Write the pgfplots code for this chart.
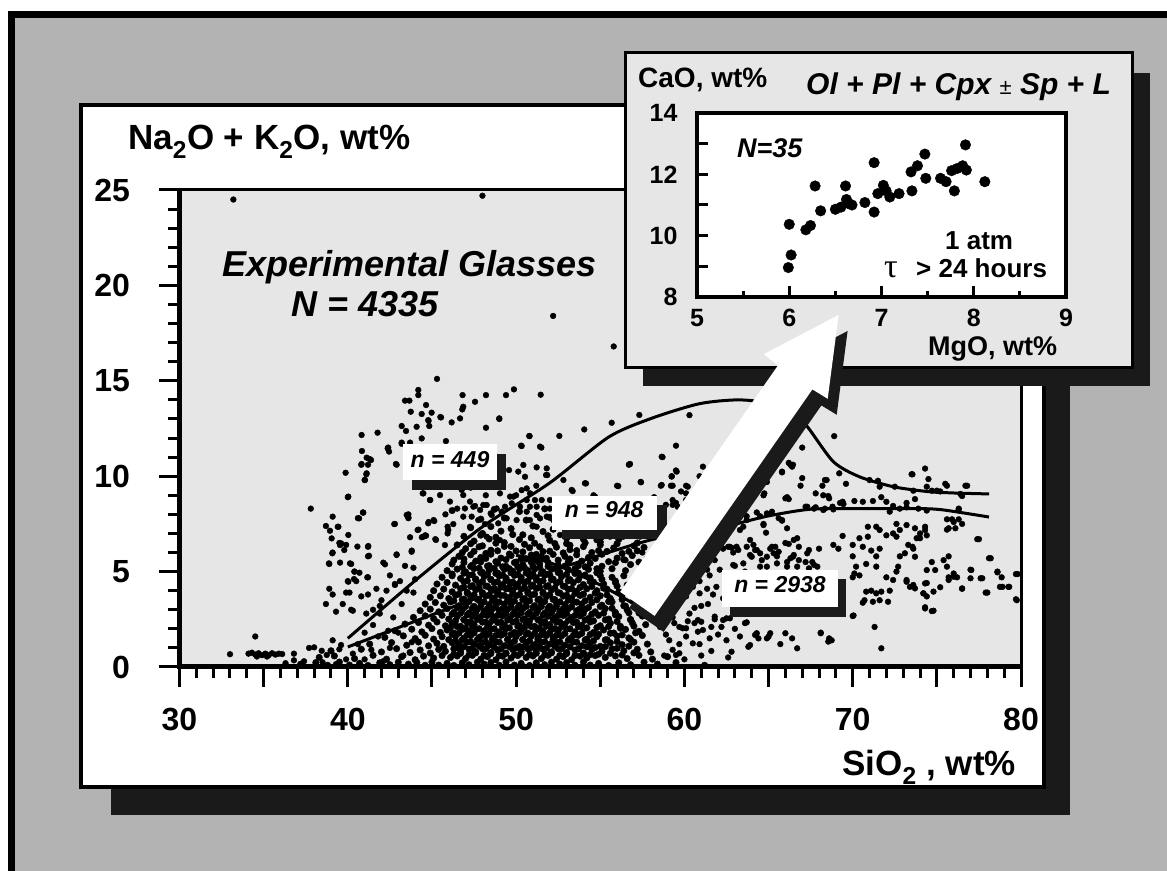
\documentclass[border=0pt]{standalone}
\usepackage{pgfplots}
\pgfplotsset{compat=1.18}
\usepackage{fontspec}
\setmainfont{Liberation Sans}
\newfontfamily\greekfont{Liberation Serif}

\definecolor{framegray}{HTML}{B3B3B3}
\definecolor{plotgray}{HTML}{E6E6E6}
\definecolor{shadowcol}{HTML}{1A1A1A}
\newcommand{\fs}[1]{\fontsize{#1}{#1}\selectfont}

\begin{document}
\begin{tikzpicture}[x=1pt,y=1pt]
\useasboundingbox (0,0) rectangle (1167,870);
\fill[white] (0,0) rectangle (1167,870);
\fill[framegray] (11,-20) rectangle (1190,855.5);
\draw[line width=7pt] (11,-20) -- (11,855.5) -- (1190,855.5);

% main panel with shadow
\fill[shadowcol] (111,55) rectangle (1070,737);
\filldraw[fill=white, draw=black, line width=3.5pt] (81,83) rectangle (1044,765);

\begin{axis}[
  at={(179.5pt,203pt)}, anchor=south west,
  scale only axis, width=841.5pt, height=477pt,
  xmin=30, xmax=80, ymin=0, ymax=25,
  axis background/.style={fill=plotgray},
  axis line style={line width=3pt},
  xtick={30,35,...,80},
  xticklabels={30,,40,,50,,60,,70,,80},
  ytick={0,5,...,25},
  minor x tick num=4, minor y tick num=4,
  tick align=outside, tick pos=left,
  major tick length=20pt, minor tick length=11pt,
  major tick style={line width=3pt, black},
  minor tick style={line width=3pt, black},
  /pgf/number format/assume math mode=true,
  tick label style={font=\fs{32}\bfseries},
  xticklabel style={anchor=north, yshift=-18pt},
  yticklabel style={anchor=east, xshift=-26pt},
  every axis plot/.append style={mark size=2.9pt},
]
% sparse glasses
\addplot[only marks, mark=*, black] coordinates {
(33.2,24.5)(48.0,24.7)(52.2,18.4)(55.8,16.8)(45.3,15.1)
(44.19,14.52)(44.19,14.25)(43.40,13.96)(43.66,13.96)(44.65,13.73)(43.74,13.38)(44.39,13.26)(44.98,13.33)(44.78,12.94)(45.54,13.08)
(46.17,12.82)(46.67,13.03)(46.80,13.50)(46.86,13.64)(46.82,14.25)(47.56,13.90)(48.21,14.25)(49.40,14.25)(49.87,14.55)(51.46,14.27)
(49.00,13.03)(48.21,12.54)(43.20,12.63)(43.46,12.37)(44.09,12.59)(44.84,12.63)(40.82,12.16)(41.77,12.28)(44.39,11.98)(43.20,11.76)
(43.70,11.76)(45.83,11.84)(42.37,11.46)(42.45,11.29)(40.84,11.32)(41.12,10.97)(41.38,10.85)(40.82,10.64)(41.12,10.15)(41.02,9.80)
(42.86,10.64)(39.87,10.18)(40.03,8.93)(40.67,7.79)(40.92,8.09)(38.70,7.39)(39.10,7.88)(39.44,7.35)(38.94,7.14)(39.04,6.74)
(40.03,6.92)(39.60,6.48)(39.79,6.13)(39.54,6.39)(39.08,5.96)(38.88,5.43)(39.54,5.47)(40.13,5.43)(40.03,4.47)(40.37,4.61)
(40.69,4.94)(40.39,5.00)(41.16,4.70)(40.57,6.31)(41.22,6.34)(41.26,5.83)(42.11,5.47)(42.21,5.38)(42.80,4.35)(42.90,5.87)
(42.76,7.49)(43.50,7.97)(43.60,7.84)(43.79,6.04)(44.15,7.18)(44.49,6.83)(44.65,6.88)(44.78,7.53)(45.14,7.65)(45.24,6.66)
(45.93,7.35)(46.27,7.49)(45.77,6.39)(45.93,7.0)(45.97,7.18)
(50.8,12.1)(50.3,11.6)(51.5,11.5)(60.3,13.2)(59.5,11.6)(58.7,11.0)(44.8,12.9)(45.5,13.1)(49.0,13.0)
(37.8,8.3)(39.4,7.35)(40.9,8.1)(40.6,7.8)(39.5,6.5)(39.9,6.4)(41.2,6.3)(41.2,5.8)(39.1,6.0)(38.9,5.4)(40.2,5.4)
(40.4,5.0)(40.5,4.5)(40.0,4.5)(41.2,4.7)(38.9,4.1)(39.1,3.8)(39.9,3.9)(40.1,3.9)(40.8,3.7)(41.2,3.8)(38.7,3.3)(39.3,2.9)
(39.7,3.3)(40.2,3.0)(40.3,2.95)(41.1,2.8)(41.5,3.0)(41.9,3.2)(41.9,2.8)(42.3,4.0)(42.8,4.3)(42.9,5.9)(42.8,7.5)(43.8,6.1)
(43.7,6.8)(43.9,5.2)(43.4,5.3)(44.2,7.2)(44.4,6.8)(44.6,6.9)(44.8,7.6)(45.1,7.7)(45.2,6.7)(44.9,8.75)(44.45,9.1)(43.6,8.0)
(43.6,7.8)(42.9,10.6)(41.3,10.9)(41.2,10.6)(42.4,11.5)(43.2,11.7)(40.8,10.6)(41.1,10.1)(41.0,9.8)(40.0,8.9)
(41.5,2.2)(42.0,3.5)(42.7,2.6)(43.2,3.3)(43.5,4.0)(42.4,1.9)(41.0,1.8)(43.9,3.9)(44.0,4.6)(43.1,4.5)(42.5,4.8)(41.7,4.1)
(34.5,1.6)(33.0,0.67)(34.1,0.7)(34.3,0.75)(34.5,0.65)(34.7,0.72)(34.9,0.62)(35.1,0.7)(35.3,0.62)(35.5,0.72)(35.7,0.65)
(35.9,0.7)(36.1,0.68)(34.6,0.55)(35.2,0.55)(36.8,0.7)(36.8,0.35)
(37.4,0.3)(37.7,1.0)(38.0,1.03)(38.45,0.85)(38.75,0.63)(39.1,1.4)(39.5,0.93)(39.6,1.15)(39.9,0.4)(40.3,0.7)(40.6,1.2)
(41.0,0.4)(41.4,0.9)(41.8,1.6)(42.1,0.3)(42.5,1.0)(43.0,1.8)(43.3,0.6)(43.8,1.3)(36.3,0.2)(38.5,0.25)(39.3,0.15)
};
% upper-middle cloud and right-hand field
\addplot[only marks, mark=*, black] coordinates {
(57.32,13.21)(55.68,12.80)(54.05,12.45)(52.57,12.11)(56.72,10.62)(57.42,9.68)(56.07,9.48)(54.15,9.62)(53.36,9.22)(51.22,10.46)
(51.85,10.06)(50.43,10.59)(50.53,9.97)(49.58,10.32)(50.13,10.24)(50.33,9.27)(49.64,8.93)(48.84,8.31)(48.49,8.05)(49.34,8.40)
(48.05,8.49)(47.56,8.44)(46.96,8.31)(46.86,7.88)(47.36,7.88)(47.75,7.70)(48.15,7.49)(47.26,7.35)(48.94,7.53)(48.25,6.83)
(49.04,6.65)(50.03,7.70)(50.82,7.70)(51.22,7.97)(50.82,8.40)(51.52,8.75)(52.01,8.75)(50.63,8.75)(51.22,7.35)(52.61,6.92)
(53.40,7.0)(54.0,6.83)(54.78,6.65)(55.58,6.83)(56.37,6.83)(57.36,6.83)(50.33,11.58)(50.78,12.11)(51.42,11.55)
(51.82,10.41)(51.78,10.06)(50.63,9.36)(50.83,9.10)(49.84,8.93)(49.04,9.10)(52.81,9.80)(53.30,9.28)(54.09,9.63)(54.69,8.93)
(56.77,10.64)(58.65,11.02)(58.65,9.54)(59.24,9.98)(59.54,10.24)
(44.49,9.10)(44.88,8.75)(45.48,9.01)(46.07,8.67)(46.77,9.28)(46.86,9.01)(47.26,8.67)(47.46,8.40)(47.86,8.23)(48.25,8.49)
(48.55,7.97)(49.14,8.14)(49.44,7.79)(49.74,8.58)(50.23,8.40)(50.63,8.14)(51.12,8.75)(51.22,8.40)(51.42,7.79)(51.82,7.88)(52.21,7.70)
(52.5,7.6)(53.4,8.1)(54.2,7.4)(55.0,8.3)(55.9,7.7)(56.8,8.8)(57.6,7.3)(53.0,8.8)(54.6,9.0)(52.0,8.3)(51.2,9.5)(50.0,9.0)
(49.0,9.6)(48.2,9.0)(47.3,9.4)(46.5,8.3)(45.8,8.0)(55.5,8.2)(56.3,7.9)(57.0,8.5)(55.8,7.3)(57.8,7.6)(58.4,8.1)(58.9,7.2)
(59.4,6.9)(58.6,6.4)(57.5,6.0)(56.5,5.6)
(59.2,5.0)(59.6,4.6)(60.0,5.3)(60.3,4.4)(59.0,4.0)(59.8,3.5)(60.6,3.1)(59.3,2.6)(60.1,1.6)(61.4,3.3)(61.9,4.2)(62.3,3.6)
(62.7,4.7)(63.2,3.1)(62.0,1.7)(63.5,4.2)(64.0,3.6)(64.6,2.9)(63.0,5.3)(61.0,5.7)(60.4,6.0)(59.8,6.5)
(58.8,4.6)(59.5,5.6)(60.2,5.0)(60.9,4.5)(61.5,4.8)(62.1,5.1)(62.5,4.3)(63.1,4.6)(63.6,5.0)(62.8,3.8)(61.7,3.8)(61.0,3.2)
(60.2,2.4)(59.7,1.2)(60.9,1.2)(61.5,1.5)(62.2,2.1)(63.0,2.0)(63.3,1.6)(62.6,0.5)(61.0,0.6)(60.0,0.4)(58.8,0.6)(58.9,1.7)
(58.7,3.3)(59.0,3.8)
(61.1,10.5)(59.5,10.3)(59.25,10.0)(59.3,9.5)(60.9,10.0)(60.1,9.5)(59.8,9.2)(60.1,9.1)(59.3,8.75)(59.6,8.4)(59.3,8.5)(58.65,8.1)
(67.0,11.5)(68.9,12.1)(66.3,10.6)(66.4,10.5)(65.8,10.2)(67.0,9.9)(66.9,9.5)(64.9,9.7)(64.7,9.0)(66.1,8.9)(66.2,8.8)
(67.8,9.1)(68.2,9.5)(68.25,9.0)(68.55,8.96)(68.45,9.8)(69.2,10.15)(69.6,9.6)
(71.0,9.8)(71.5,9.76)(71.6,9.45)(72.5,9.45)(73.6,9.24)(73.5,10.1)(74.3,10.4)(74.5,9.85)(74.4,9.45)(75.0,9.24)(75.2,9.2)
(75.5,9.6)(75.6,9.5)(76.8,9.5)(76.4,9.07)(76.5,8.96)(76.3,8.3)
(67.3,8.4)(67.8,8.37)(68.35,8.3)(68.85,8.26)(69.25,8.6)(69.45,8.54)(70.1,8.7)(70.6,8.66)(71.2,8.7)(71.7,8.9)(72.0,8.66)
(72.4,8.44)(72.2,8.14)(72.8,8.3)(73.2,8.37)(73.2,8.6)(73.7,8.8)(73.9,8.3)(74.4,8.2)
(75.6,7.74)(76.0,7.6)(76.3,7.74)(76.3,8.26)(76.5,7.5)(75.6,7.2)(76.1,7.27)(75.9,7.74)(75.7,7.27)
(64.7,7.44)(64.85,7.04)(65.6,7.8)(66.1,7.27)(65.8,7.67)
(66.7,6.75)(66.2,6.45)(67.3,5.96)(68.0,6.2)(68.85,6.4)(69.15,6.2)(69.4,6.87)(70.0,6.4)(70.4,6.75)(70.6,6.3)(70.9,6.83)
(70.9,7.35)(71.4,7.35)(71.6,7.18)(72.0,6.9)(72.4,7.0)(72.6,7.5)(72.8,7.18)(73.2,7.44)(73.7,7.27)(73.8,6.75)(73.3,6.4)
(73.6,6.2)(73.1,5.96)(72.8,5.8)(74.3,7.35)(74.4,6.9)(74.0,6.75)
(70.0,5.8)(70.2,5.26)(70.1,4.9)(70.4,4.8)(70.0,4.7)(70.8,5.4)(71.4,5.26)(71.1,6.1)(71.6,6.2)(71.4,5.8)
(72.0,4.7)(72.4,4.56)(72.6,5.0)(72.7,5.26)(73.2,4.47)(73.4,4.2)(73.6,4.3)(74.2,3.86)(74.4,3.7)(74.4,4.4)
(70.8,3.95)(71.1,4.0)(71.4,3.86)(71.7,3.95)(72.2,4.0)(70.7,3.5)(70.6,3.37)(71.2,3.42)(71.6,3.5)(72.1,3.42)
(74.3,3.13)(74.8,2.95)(75.2,4.18)(75.6,5.26)(75.7,5.8)(75.7,4.7)(76.2,4.7)(76.0,4.9)(76.5,4.1)(77.0,4.65)(77.0,5.1)
(77.4,6.7)(77.7,4.65)(78.0,3.9)(78.2,5.7)(78.6,5.0)(78.85,4.7)(78.75,4.2)(79.25,4.2)(79.75,3.5)(79.8,4.87)
(70.0,2.67)(71.3,2.1)(71.7,0.98)(68.1,1.8)(68.55,1.33)(68.75,1.4)(66.4,1.5)(66.7,0.98)(65.7,1.2)(65.1,1.77)(64.9,1.5)
(64.4,1.5)(64.2,1.68)(63.9,1.15)(63.8,1.06)(63.7,2.34)(62.8,0.8)(62.5,1.4)(61.6,0.84)(59.3,0.9)(59.5,0.63)(59.7,0.72)
(60.5,1.24)(60.8,1.85)(60.1,2.03)(59.7,2.1)(59.1,2.8)(58.55,2.1)(59.1,1.4)(61.6,2.1)(61.8,2.5)(62.3,2.46)(62.7,2.55)
(61.0,2.37)(60.6,2.3)
(61.9,6.1)(62.1,6.3)(62.3,6.2)(62.6,6.3)(62.8,6.25)(62.9,6.0)(63.1,6.3)(63.3,7.18)(63.7,7.7)(64.3,8.1)(64.7,7.5)
(63.9,6.66)(64.1,6.4)(64.2,6.13)(63.9,5.87)(64.5,5.96)(64.6,5.6)(64.9,5.78)(65.1,6.2)(65.4,6.3)(65.6,6.04)(65.3,5.96)
(65.5,5.8)(66.1,5.5)(66.3,5.7)(66.5,5.87)(66.8,5.6)(67.6,5.5)(67.9,5.26)(67.4,5.17)(66.7,5.26)(66.1,5.26)(65.5,5.43)
(64.9,5.26)(64.5,5.26)(63.5,7.35)(63.7,7.9)(64.5,7.9)(64.9,8.05)
(62.2,6.3)(62.7,6.3)(63.2,6.13)(63.7,6.3)(64.0,5.78)(63.5,5.43)(62.9,5.35)(64.3,6.13)(65.2,6.3)(66.0,6.5)(66.5,6.66)
(66.8,6.3)(66.45,5.78)(67.2,5.5)(67.7,5.35)(67.4,6.13)
(60.7,4.9)(61.35,5.1)(61.8,5.6)(60.5,4.2)(60.9,3.86)(61.35,4.1)(60.1,3.7)(59.4,3.16)(60.3,2.8)(60.8,2.46)(61.1,1.94)
(59.9,2.03)(59.4,2.3)(61.8,2.64)(62.5,2.55)(63.6,2.3)(64.3,1.77)(65.0,1.59)(66.0,1.77)(68.1,1.77)(68.6,1.5)(70.05,2.7)(65.9,2.8)
(73.55,10.1)(74.7,9.24)(76.7,9.5)(77.5,6.7)(78.1,5.7)(78.6,4.96)(79.7,4.87)(79.7,3.55)(79.3,4.2)(78.9,4.2)(77.9,3.9)
(77.6,4.65)(77.05,5.08)(76.5,4.12)(76.0,4.73)(75.7,4.56)(75.4,5.6)(74.9,5.08)(74.7,5.5)(74.4,5.08)(74.3,4.38)(74.8,3.95)
(74.3,3.07)(74.7,2.93)(74.2,3.86)(73.7,4.12)(73.2,4.56)(73.7,5.78)(73.55,6.3)(74.0,7.0)(74.3,7.18)(72.6,6.83)
(64.75,9.1)(64.1,9.8)(64.6,10.0)(65.2,8.14)(65.8,7.7)(66.0,8.84)(67.2,8.4)(67.7,8.3)(68.25,8.23)(68.8,8.4)(69.4,8.66)
(65.8,10.24)(66.2,10.7)(66.45,10.6)(68.35,9.8)(68.6,8.84)
(56.7,10.6)(57.4,9.7)(56.0,9.5)(58.6,9.5)(59.2,9.5)(60.2,9.45)(59.5,8.6)(58.9,8.5)(60.1,8.75)(58.2,8.9)(57.85,8.4)
};
% dense basaltic core
\addplot[only marks, mark=*, mark size=3.3pt, black] coordinates {
(37.2,0.15)(38.1,0.23)(38.8,0.09)(39.5,0.26)(40.1,0.1)(40.7,0.19)(41.2,0.08)(41.9,0.22)(42.5,0.12)(43.0,0.25)(43.6,0.15)
(44.1,0.23)(44.6,0.09)(45.0,0.26)(45.4,0.1)(45.9,0.19)(46.3,0.08)(46.8,0.22)(47.2,0.12)(47.7,0.25)(48.1,0.15)(48.5,0.23)
(49.0,0.09)(49.4,0.26)(49.9,0.1)(50.3,0.19)(50.8,0.08)(51.2,0.22)(51.7,0.12)(52.1,0.25)(52.6,0.15)(53.0,0.23)(53.5,0.09)
(54.0,0.26)(54.4,0.1)(54.9,0.19)(55.5,0.08)(56.1,0.22)(56.8,0.12)(57.6,0.25)(58.4,0.15)(59.5,0.23)(61.2,0.09)
(38.3,0.50)(39.2,0.58)(40.4,0.44)(41.5,0.61)(42.3,0.41)(43.2,0.54)(44.0,0.38)(44.5,0.57)(45.1,0.47)(45.6,0.60)
(46.1,0.50)(46.5,0.58)(47.0,0.44)(47.4,0.61)(47.9,0.41)(48.3,0.54)(48.8,0.38)(49.2,0.57)(49.7,0.47)(50.1,0.60)
(50.6,0.50)(51.0,0.58)(51.5,0.44)(51.9,0.61)(52.4,0.41)(52.8,0.54)(53.3,0.38)(53.8,0.57)(54.2,0.47)(54.7,0.60)
(55.3,0.50)(55.9,0.58)(56.6,0.44)(57.3,0.61)(58.1,0.41)(59.0,0.54)
(39.0,0.85)(40.8,0.93)(42.0,0.79)(42.9,0.96)(43.7,0.76)(44.3,0.89)(44.9,0.73)(45.4,0.92)(45.8,0.82)(46.3,0.95)
(46.7,0.85)(47.2,0.93)(47.6,0.79)(48.0,0.96)(48.5,0.76)(48.9,0.89)(49.4,0.73)(49.8,0.92)(50.3,0.82)(50.7,0.95)
(51.2,0.85)(51.6,0.93)(52.1,0.79)(52.5,0.96)(53.0,0.76)(53.5,0.89)(54.0,0.73)(54.5,0.92)(55.1,0.82)(55.7,0.95)
(56.4,0.85)(57.2,0.93)(58.0,0.79)
(41.3,1.20)(42.6,1.28)(43.5,1.14)(44.2,1.31)(44.8,1.11)(45.3,1.24)(45.7,1.08)(46.2,1.27)(46.6,1.17)(47.1,1.30)
(47.5,1.20)(48.0,1.28)(48.4,1.14)(48.8,1.31)(49.3,1.11)(49.7,1.24)(50.2,1.08)(50.6,1.27)(51.1,1.17)(51.5,1.30)
(52.0,1.20)(52.4,1.28)(52.9,1.14)(53.4,1.31)(53.9,1.11)(54.4,1.24)(55.0,1.08)(55.6,1.27)(56.3,1.17)(57.0,1.30)(57.8,1.20)
(42.2,1.55)(43.3,1.63)(44.0,1.49)(44.6,1.66)(45.1,1.46)(45.6,1.59)(46.0,1.43)(46.4,1.62)(46.9,1.52)(47.3,1.65)
(47.8,1.55)(48.2,1.63)(48.6,1.49)(49.1,1.66)(49.5,1.46)(50.0,1.59)(50.4,1.43)(50.9,1.62)(51.3,1.52)(51.8,1.65)
(52.2,1.55)(52.7,1.63)(53.2,1.49)(53.7,1.66)(54.2,1.46)(54.8,1.59)(55.4,1.43)(56.0,1.62)(56.7,1.52)(57.5,1.65)
(42.8,1.90)(43.8,1.98)(44.4,1.84)(45.0,2.01)(45.5,1.81)(45.9,1.94)(46.3,1.78)(46.8,1.97)(47.2,1.87)(47.6,2.00)
(48.1,1.90)(48.5,1.98)(49.0,1.84)(49.4,2.01)(49.9,1.81)(50.3,1.94)(50.7,1.78)(51.2,1.97)(51.6,1.87)(52.1,2.00)
(52.5,1.90)(53.0,1.98)(53.5,1.84)(54.0,2.01)(54.6,1.81)(55.2,1.94)(55.8,1.78)(56.5,1.97)(57.3,1.87)
(43.4,2.25)(44.2,2.33)(44.8,2.19)(45.3,2.36)(45.8,2.16)(46.2,2.29)(46.7,2.13)(47.1,2.32)(47.5,2.22)(48.0,2.35)
(48.4,2.25)(48.9,2.33)(49.3,2.19)(49.8,2.36)(50.2,2.16)(50.6,2.29)(51.1,2.13)(51.5,2.32)(52.0,2.22)(52.4,2.35)
(52.9,2.25)(53.4,2.33)(53.9,2.19)(54.4,2.36)(55.0,2.16)(55.6,2.29)(56.2,2.13)(56.9,2.32)(57.7,2.22)
(43.9,2.60)(44.6,2.68)(45.1,2.54)(45.6,2.71)(46.0,2.51)(46.5,2.64)(46.9,2.48)(47.4,2.67)(47.8,2.57)(48.3,2.70)
(48.7,2.60)(49.2,2.68)(49.6,2.54)(50.1,2.71)(50.5,2.51)(51.0,2.64)(51.4,2.48)(51.9,2.67)(52.3,2.57)(52.8,2.70)
(53.3,2.60)(53.8,2.68)(54.3,2.54)(54.9,2.71)(55.5,2.51)(56.1,2.64)(56.8,2.48)(57.5,2.67)
(44.3,2.95)(44.9,3.03)(45.4,2.89)(45.9,3.06)(46.3,2.86)(46.8,2.99)(47.2,2.83)(47.7,3.02)(48.1,2.92)(48.6,3.05)
(49.0,2.95)(49.5,3.03)(49.9,2.89)(50.4,3.06)(50.8,2.86)(51.3,2.99)(51.7,2.83)(52.2,3.02)(52.6,2.92)(53.1,3.05)
(53.6,2.95)(54.1,3.03)(54.7,2.89)(55.3,3.06)(55.9,2.86)(56.6,2.99)(57.3,2.83)
(44.6,3.30)(45.2,3.38)(45.7,3.24)(46.1,3.41)(46.6,3.21)(47.0,3.34)(47.5,3.18)(47.9,3.37)(48.4,3.27)(48.8,3.40)
(49.3,3.30)(49.7,3.38)(50.2,3.24)(50.6,3.41)(51.1,3.21)(51.5,3.34)(52.0,3.18)(52.4,3.37)(52.9,3.27)(53.4,3.40)
(53.9,3.30)(54.5,3.38)(55.1,3.24)(55.7,3.41)(56.4,3.21)(57.1,3.34)
(44.9,3.65)(45.5,3.73)(46.0,3.59)(46.4,3.76)(46.9,3.56)(47.3,3.69)(47.8,3.53)(48.2,3.72)(48.7,3.62)(49.1,3.75)
(49.6,3.65)(50.0,3.73)(50.5,3.59)(50.9,3.76)(51.4,3.56)(51.8,3.69)(52.3,3.53)(52.8,3.72)(53.3,3.62)(53.8,3.75)
(54.4,3.65)(55.0,3.73)(55.6,3.59)(56.3,3.76)(57.0,3.56)
(45.1,4.00)(45.7,4.08)(46.2,3.94)(46.7,4.11)(47.1,3.91)(47.6,4.04)(48.0,3.88)(48.5,4.07)(48.9,3.97)(49.4,4.10)
(49.8,4.00)(50.3,4.08)(50.7,3.94)(51.2,4.11)(51.6,3.91)(52.1,4.04)(52.6,3.88)(53.1,4.07)(53.6,3.97)(54.2,4.10)
(54.8,4.00)(55.4,4.08)(56.1,3.94)(56.8,4.11)
(45.3,4.35)(45.9,4.43)(46.4,4.29)(46.9,4.46)(47.4,4.26)(47.8,4.39)(48.3,4.23)(48.7,4.42)(49.2,4.32)(49.6,4.45)
(50.1,4.35)(50.5,4.43)(51.0,4.29)(51.4,4.46)(51.9,4.26)(52.4,4.39)(52.9,4.23)(53.4,4.42)(54.0,4.32)(54.6,4.45)
(55.2,4.35)(55.9,4.43)(56.6,4.29)
(45.6,4.70)(46.2,4.78)(46.7,4.64)(47.2,4.81)(47.6,4.61)(48.1,4.74)(48.5,4.58)(49.0,4.77)(49.4,4.67)(49.9,4.80)
(50.3,4.70)(50.8,4.78)(51.2,4.64)(51.7,4.81)(52.2,4.61)(52.7,4.74)(53.2,4.58)(53.8,4.77)(54.4,4.67)(55.0,4.80)
(55.7,4.70)(56.4,4.78)
(45.9,5.05)(46.5,5.13)(47.0,4.99)(47.5,5.16)(48.0,4.96)(48.4,5.09)(48.9,4.93)(49.3,5.12)(49.8,5.02)(50.2,5.15)
(50.7,5.05)(51.1,5.13)(51.6,4.99)(52.1,5.16)(52.6,4.96)(53.1,5.09)(53.7,4.93)(54.3,5.12)(55.0,5.02)(55.7,5.15)(56.5,5.05)
(46.2,5.40)(46.9,5.48)(47.4,5.34)(47.9,5.51)(48.4,5.31)(48.9,5.44)(49.4,5.28)(49.9,5.47)(50.4,5.37)(50.9,5.50)
(51.4,5.40)(51.9,5.48)(52.5,5.34)(53.1,5.51)(53.7,5.31)(54.4,5.44)(55.1,5.28)(55.9,5.47)(56.8,5.37)
(46.6,5.80)(47.3,5.88)(47.9,5.74)(48.5,5.91)(49.1,5.71)(49.7,5.84)(50.3,5.68)(50.9,5.87)(51.5,5.77)(52.2,5.90)
(52.9,5.80)(53.6,5.88)(54.3,5.74)(55.1,5.91)(56.0,5.71)(56.9,5.84)(57.8,5.68)
(47.0,6.20)(47.8,6.30)(48.5,6.12)(49.3,6.32)(50.0,6.08)(50.8,6.25)(51.6,6.05)(52.4,6.28)(53.2,6.15)(54.0,6.31)
(54.9,6.10)(55.8,6.24)(56.7,6.06)(57.6,6.27)
(47.5,6.60)(48.4,6.71)(49.3,6.52)(50.2,6.68)(51.1,6.49)(52.0,6.64)(53.0,6.47)(54.0,6.70)(55.0,6.55)(56.1,6.69)(57.2,6.50)
(48.0,7.00)(49.1,7.12)(50.4,6.93)(51.6,7.10)(52.9,6.95)(54.3,7.14)(55.7,6.91)(57.1,7.08)
(46.3,0.67)(46.7,0.72)(47.2,0.63)(47.6,0.74)(48.1,0.61)(48.5,0.70)(49.0,0.60)(49.4,0.71)(49.9,0.65)(50.3,0.73)
(50.8,0.67)(51.2,0.72)(51.7,0.63)(52.1,0.74)(52.6,0.61)(53.0,0.70)(53.5,0.60)(54.0,0.71)(54.4,0.65)
(46.5,1.02)(46.9,1.07)(47.4,0.98)(47.8,1.09)(48.2,0.96)(48.7,1.05)(49.1,0.95)(49.6,1.06)(50.0,1.00)(50.5,1.08)
(50.9,1.02)(51.4,1.07)(51.8,0.98)(52.3,1.09)(52.7,0.96)(53.2,1.05)(53.7,0.95)(54.2,1.06)
(46.4,1.37)(46.8,1.42)(47.3,1.33)(47.7,1.44)(48.2,1.31)(48.6,1.40)(49.0,1.30)(49.5,1.41)(49.9,1.35)(50.4,1.43)
(50.8,1.37)(51.3,1.42)(51.7,1.33)(52.2,1.44)(52.6,1.31)(53.1,1.40)(53.6,1.30)(54.1,1.41)
(46.2,1.72)(46.6,1.77)(47.1,1.68)(47.5,1.79)(48.0,1.66)(48.4,1.75)(48.8,1.65)(49.3,1.76)(49.7,1.70)(50.2,1.78)
(50.6,1.72)(51.1,1.77)(51.5,1.68)(52.0,1.79)(52.4,1.66)(52.9,1.75)(53.4,1.65)(53.9,1.76)(54.4,1.70)
(46.1,2.07)(46.5,2.12)(47.0,2.03)(47.4,2.14)(47.8,2.01)(48.3,2.10)(48.7,2.00)(49.2,2.11)(49.6,2.05)(50.1,2.13)
(50.5,2.07)(50.9,2.12)(51.4,2.03)(51.8,2.14)(52.3,2.01)(52.7,2.10)(53.2,2.00)(53.7,2.11)(54.2,2.05)
(46.4,2.42)(46.9,2.47)(47.3,2.38)(47.7,2.49)(48.2,2.36)(48.6,2.45)(49.1,2.35)(49.5,2.46)(50.0,2.40)(50.4,2.48)
(50.8,2.42)(51.3,2.47)(51.7,2.38)(52.2,2.49)(52.6,2.36)(53.1,2.45)(53.6,2.35)(54.1,2.46)
(46.2,2.77)(46.7,2.82)(47.1,2.73)(47.6,2.84)(48.0,2.71)(48.5,2.80)(48.9,2.70)(49.4,2.81)(49.8,2.75)(50.3,2.83)
(50.7,2.77)(51.2,2.82)(51.6,2.73)(52.1,2.84)(52.5,2.71)(53.0,2.80)(53.5,2.70)(54.0,2.81)
(46.5,3.12)(47.0,3.17)(47.4,3.08)(47.9,3.19)(48.3,3.06)(48.8,3.15)(49.2,3.05)(49.7,3.16)(50.1,3.10)(50.6,3.18)
(51.0,3.12)(51.5,3.17)(51.9,3.08)(52.4,3.19)(52.8,3.06)(53.3,3.15)(53.8,3.05)
(46.3,3.47)(46.8,3.52)(47.2,3.43)(47.7,3.54)(48.1,3.41)(48.6,3.50)(49.0,3.40)(49.5,3.51)(49.9,3.45)(50.4,3.53)
(50.8,3.47)(51.3,3.52)(51.7,3.43)(52.2,3.54)(52.6,3.41)(53.1,3.50)(53.6,3.40)
(46.6,3.82)(47.1,3.87)(47.5,3.78)(48.0,3.89)(48.4,3.76)(48.9,3.85)(49.3,3.75)(49.8,3.86)(50.2,3.80)(50.7,3.88)
(51.1,3.82)(51.6,3.87)(52.0,3.78)(52.5,3.89)(53.0,3.76)(53.5,3.85)
(46.9,4.17)(47.3,4.22)(47.8,4.13)(48.2,4.24)(48.7,4.11)(49.1,4.20)(49.6,4.10)(50.0,4.21)(50.5,4.15)(50.9,4.23)
(51.4,4.17)(51.8,4.22)(52.3,4.13)(52.8,4.24)(53.3,4.11)
(47.1,4.52)(47.6,4.57)(48.0,4.48)(48.5,4.59)(48.9,4.46)(49.4,4.55)(49.8,4.45)(50.3,4.56)(50.7,4.50)(51.2,4.58)
(51.6,4.52)(52.1,4.57)(52.6,4.48)
(54.9,0.67)(55.6,0.72)(56.3,0.63)(57.0,0.74)(54.7,1.02)(55.3,1.07)(56.0,0.98)(56.7,1.09)(54.6,1.37)(55.3,1.42)
(56.0,1.33)(56.8,1.44)(54.9,1.72)(55.6,1.77)(56.3,1.68)(57.1,1.79)(54.8,2.07)(55.5,2.12)(56.2,2.03)(57.0,2.14)
(54.6,2.42)(55.3,2.47)(56.0,2.38)(56.8,2.49)(54.5,2.77)(55.2,2.82)(55.9,2.73)(56.7,2.84)(54.3,3.12)(55.0,3.17)
(55.7,3.08)(56.5,3.19)(54.1,3.47)(54.8,3.52)(55.5,3.43)(56.3,3.54)(54.0,3.82)(54.7,3.87)(55.4,3.78)(56.2,3.89)
(53.8,4.17)(54.5,4.22)(55.2,4.13)(56.0,4.24)(53.1,4.52)(53.7,4.57)(54.4,4.48)(55.1,4.59)(55.9,4.50)
(46.2,4.87)(46.9,4.92)(47.4,4.83)(47.9,4.95)(48.3,4.85)(48.8,4.90)(49.2,4.82)(49.7,4.94)(50.1,4.86)(50.6,4.93)
(51.0,4.87)(51.5,4.92)(52.0,4.83)(52.5,4.95)(53.0,4.85)(53.5,4.90)(54.1,4.82)(54.8,4.94)
(46.8,5.22)(47.3,5.27)(47.8,5.18)(48.3,5.29)(48.7,5.16)(49.2,5.25)(49.6,5.15)(50.1,5.26)(50.5,5.20)(51.0,5.28)
(51.4,5.22)(51.9,5.27)(52.4,5.18)(52.9,5.29)(53.5,5.16)(54.1,5.25)(54.8,5.15)
(46.3,5.60)(46.9,5.66)(47.6,5.55)(48.2,5.69)(48.8,5.52)(49.4,5.63)(50.0,5.50)(50.6,5.67)(51.2,5.58)(51.8,5.70)
(52.5,5.60)(53.2,5.66)(53.9,5.55)(54.7,5.69)(55.5,5.52)(56.4,5.63)(57.3,5.50)
(46.8,6.00)(47.5,6.06)(48.2,5.95)(48.9,6.09)(49.6,5.92)(50.4,6.03)(51.2,5.90)(52.0,6.07)(52.8,5.98)(53.6,6.10)
(54.5,6.00)(55.4,6.06)(56.3,5.95)(57.2,6.09)
(46.5,6.40)(47.3,6.46)(48.0,6.35)(48.8,6.49)(49.7,6.32)(50.5,6.43)(51.4,6.30)(52.3,6.47)(53.2,6.38)(54.1,6.50)
(55.0,6.40)(56.0,6.46)(57.0,6.35)
(46.9,6.85)(47.9,6.91)(48.8,6.80)(49.8,6.94)(50.9,6.77)(51.9,6.88)(53.0,6.75)(54.0,6.92)(55.1,6.83)(56.2,6.95)
(47.3,7.30)(48.5,7.36)(49.7,7.25)(51.0,7.39)(52.2,7.22)(53.5,7.33)(54.8,7.20)(56.1,7.37)
(47.9,7.75)(49.3,7.81)(50.6,7.70)(52.0,7.84)(53.4,7.67)(54.9,7.78)(56.4,7.65)
(46.2,8.20)(48.7,8.26)(50.2,8.15)(51.7,8.29)(53.3,8.12)(55.2,8.23)
};
% trend lines
\addplot[black, line width=3pt, smooth, tension=0.45] coordinates {
(40,1.5)(44.1,4.6)(48,7.35)(52,9.65)(55.5,12.05)(58.1,13.05)(60.9,13.8)(63.2,14.0)(65,13.8)(66.7,12.95)(67.3,12.6)
(68.85,10.76)(70.4,9.97)(72.4,9.45)(74.4,9.2)(76,9.12)(78.1,9.07)};
\addplot[black, line width=3pt, smooth, tension=0.45] coordinates {
(40,1.05)(46.1,3.1)(52,5.0)(57.95,6.65)(62.1,7.3)(64.9,7.9)(67.5,8.27)(70.4,8.3)(74.0,8.3)(75.4,8.23)(78.1,7.86)};
\addplot[black, line width=3pt, smooth, tension=0.45] coordinates {
(50,5.85)(51.5,5.6)(52.8,5.2)(55,4.3)(57,3.3)(58.3,2.5)};
\end{axis}
\draw[line width=5pt] (179.5,680) -- (179.5,203) -- (1021,203);

\node[anchor=base west, font=\fs{35}\bfseries, inner sep=0] at (128,720) {Na\textsubscript{2}O + K\textsubscript{2}O, wt\%};
\node[anchor=base east, font=\fs{35}\bfseries, inner sep=0] at (1016,94.3) {SiO\textsubscript{2} , wt\%};
\node[anchor=base west, font=\fs{36}\bfseries\itshape, inner sep=0] at (222,593.3) {Experimental Glasses};
\node[anchor=base west, font=\fs{36}\bfseries\itshape, inner sep=0] at (291.7,553.3) {N = 4335};

% group labels
\fill[shadowcol] (412,380) rectangle (506,416);
\fill[white] (403,390) rectangle (497,426);
\node[anchor=base, font=\fs{23}\bfseries\itshape] at (450,402) {n = 449};
\fill[shadowcol] (561.7,331) rectangle (666.7,365);
\fill[white] (551.7,340) rectangle (656.7,374);
\node[anchor=base, font=\fs{23}\bfseries\itshape] at (604.2,352) {n = 948};
\fill[shadowcol] (729.7,253.3) rectangle (846.3,291);
\fill[white] (721.7,263.3) rectangle (838.3,300);
\node[anchor=base, font=\fs{23}\bfseries\itshape] at (780,277.3) {n = 2938};

% inset
\fill[shadowcol] (643,484) rectangle (1150,797);
\filldraw[fill=plotgray, draw=black, line width=3pt] (625,502) rectangle (1132,817);
\begin{axis}[
  at={(697pt,573pt)}, anchor=south west,
  scale only axis, width=369pt, height=184pt,
  xmin=5, xmax=9, ymin=8, ymax=14,
  axis background/.style={fill=white},
  axis line style={line width=4pt},
  xtick={5,...,9}, minor x tick num=1,
  ytick={8,...,14}, yticklabels={8,,10,,12,,14},
  tick align=inside, tick pos=left,
  major tick length=11pt, minor tick length=6pt,
  major tick style={line width=3pt, black},
  minor tick style={line width=3pt, black},
  /pgf/number format/assume math mode=true,
  tick label style={font=\fs{25}\bfseries},
  xticklabel style={anchor=north, yshift=-9pt},
  yticklabel style={anchor=east, xshift=-16pt},
]
\addplot[only marks, mark=*, mark size=5.3pt, black] coordinates {
(6.00,10.37)(6.02,9.37)(5.99,8.96)(6.18,10.19)(6.23,10.33)(6.28,11.62)(6.34,10.81)(6.50,10.86)(6.56,10.93)
(6.61,11.62)(6.62,11.18)(6.64,11.05)(6.68,11.0)(6.82,11.08)(6.92,10.77)(6.92,12.38)(6.96,11.37)(7.02,11.64)
(7.05,11.46)(7.09,11.26)(7.19,11.37)(7.33,11.46)(7.32,12.08)(7.39,12.28)(7.47,12.66)(7.48,11.87)(7.64,11.87)
(7.70,11.76)(7.76,12.12)(7.79,11.46)(7.82,12.19)(7.88,12.28)(7.91,12.96)(7.92,12.14)(8.12,11.76)};
\end{axis}
\node[anchor=base west, font=\fs{28}\bfseries, inner sep=0] at (638,782) {CaO, wt\%};
\node[anchor=base west, font=\fs{30}\bfseries\itshape, inner sep=0] at (806,775) {Ol + Pl + Cpx\ {\mdseries\upshape\fs{22}±}\ Sp + L};
\node[anchor=base west, font=\fs{27}\bfseries\itshape, inner sep=0] at (737,712) {N=35};
\node[anchor=base west, font=\fs{26}\bfseries, inner sep=0] at (945,620) {1 atm};
\node[anchor=base west, font=\fs{34}\greekfont, inner sep=0] at (884,592) {τ};
\node[anchor=base west, font=\fs{26}\bfseries, inner sep=0] at (916,592) {> 24 hours};
\node[anchor=base west, font=\fs{27}\bfseries, inner sep=0] at (928,514) {MgO, wt\%};

% arrow from the glasses field to the inset
\fill[shadowcol, shift={(9,-16)}] (838.6,555) -- (827.7,471.2) -- (812.4,480.6) -- (654.6,254.1) -- (620.2,278.1) -- (778,504.6) -- (763.7,515.8) -- cycle;
\fill[white] (838.6,555) -- (827.7,471.2) -- (812.4,480.6) -- (654.6,254.1) -- (620.2,278.1) -- (778,504.6) -- (763.7,515.8) -- cycle;
\end{tikzpicture}
\end{document}
